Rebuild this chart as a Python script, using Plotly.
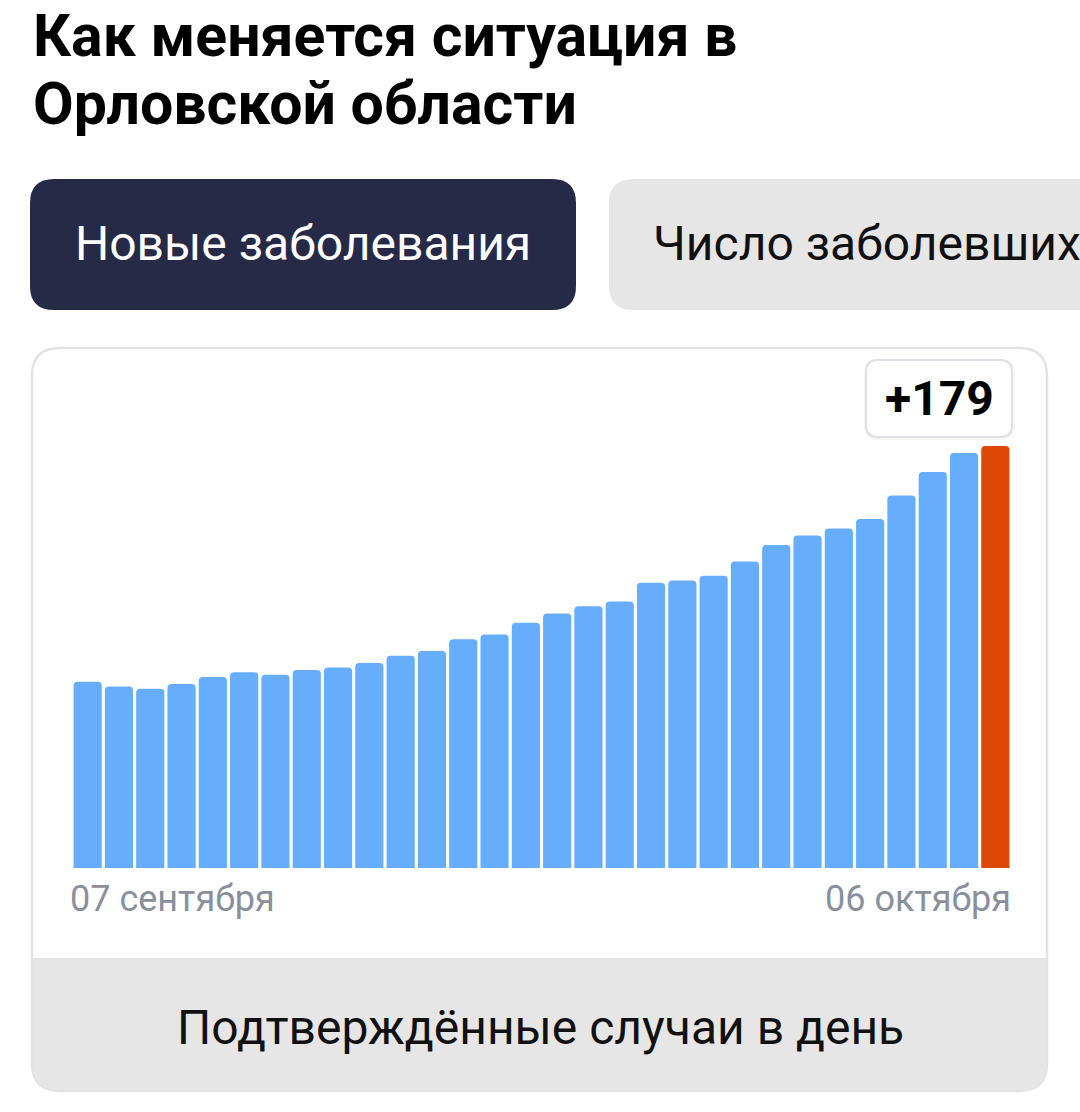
import plotly.graph_objects as go

# ---- data ----
dates = ["07.09", "08.09", "09.09", "10.09", "11.09", "12.09", "13.09", "14.09", "15.09", "16.09",
         "17.09", "18.09", "19.09", "20.09", "21.09", "22.09", "23.09", "24.09", "25.09", "26.09",
         "27.09", "28.09", "29.09", "30.09", "01.10", "02.10", "03.10", "04.10", "05.10", "06.10"]
new_cases = [79, 77, 76, 78, 81, 83, 82, 84, 85, 87,
             90, 92, 97, 99, 104, 108, 111, 113, 121, 122,
             124, 130, 137, 141, 144, 148, 158, 168, 176, 179]
first_label = "07 сентября"
last_label = "06 октября"
title_lines = ["Как меняется ситуация в", "Орловской области"]
tab_active = "Новые заболевания"
tab_other = "Число заболевших"
footer = "Подтверждённые случаи в день"

W, H = 1080, 1112
BLUE = "#66adfc"
RED = "#dc4804"


def px(x):
    return x / W


def py(y):
    return 1 - y / H


def rrect(x0, y0, x1, y1, r, corners=(True, True, True, True)):
    """Rounded rect path in paper coords; corners = (tl, tr, br, bl)."""
    tl, tr, br, bl = [r if c else 0 for c in corners]
    pts = []
    pts.append(f"M {px(x0 + tl)},{py(y0)}")
    pts.append(f"L {px(x1 - tr)},{py(y0)}")
    if tr:
        pts.append(f"Q {px(x1)},{py(y0)} {px(x1)},{py(y0 + tr)}")
    pts.append(f"L {px(x1)},{py(y1 - br)}")
    if br:
        pts.append(f"Q {px(x1)},{py(y1)} {px(x1 - br)},{py(y1)}")
    pts.append(f"L {px(x0 + bl)},{py(y1)}")
    if bl:
        pts.append(f"Q {px(x0)},{py(y1)} {px(x0)},{py(y1 - bl)}")
    pts.append(f"L {px(x0)},{py(y0 + tl)}")
    if tl:
        pts.append(f"Q {px(x0)},{py(y0)} {px(x0 + tl)},{py(y0)}")
    pts.append("Z")
    return " ".join(pts)


colors = [BLUE] * (len(new_cases) - 1) + [RED]

fig = go.Figure()
fig.add_trace(go.Bar(
    x=dates, y=new_cases,
    marker=dict(color=colors, line=dict(width=0), cornerradius=4),
    hoverinfo="skip",
))

shapes = []
# card border
shapes.append(dict(type="path", xref="paper", yref="paper", layer="below",
                   path=rrect(32, 348, 1047, 1091, 28),
                   fillcolor="white", line=dict(color="#e3e3e6", width=2.5)))
# footer band
shapes.append(dict(type="path", xref="paper", yref="paper", layer="below",
                   path=rrect(33, 958, 1046, 1090, 27, (False, False, True, True)),
                   fillcolor="#e6e6e7", line=dict(width=0)))
# tabs
shapes.append(dict(type="path", xref="paper", yref="paper", layer="below",
                   path=rrect(30, 179, 576, 310, 24),
                   fillcolor="#262a47", line=dict(width=0)))
shapes.append(dict(type="path", xref="paper", yref="paper", layer="below",
                   path=rrect(609, 179, 1110, 310, 24),
                   fillcolor="#e6e6e7", line=dict(width=0)))
# tooltip shadow + box
shapes.append(dict(type="path", xref="paper", yref="paper", layer="above",
                   path=rrect(864, 359, 1015, 440, 14),
                   fillcolor="rgba(0,0,0,0.04)", line=dict(width=0)))
shapes.append(dict(type="path", xref="paper", yref="paper", layer="above",
                   path=rrect(866, 360, 1012, 437, 12),
                   fillcolor="white", line=dict(color="#dde0e6", width=2)))

annotations = [
    dict(text=title_lines[0], x=px(31), y=py(35), xanchor="left", yanchor="middle",
         font=dict(family="Roboto", size=59, color="#000000", weight="bold")),
    dict(text=title_lines[1], x=px(31), y=py(104), xanchor="left", yanchor="middle",
         font=dict(family="Roboto", size=59, color="#000000", weight="bold")),
    dict(text=tab_active, x=px(303), y=py(244), xanchor="center", yanchor="middle",
         font=dict(family="Roboto", size=48, color="#ffffff")),
    dict(text=tab_other, x=px(651), y=py(244), xanchor="left", yanchor="middle",
         font=dict(family="Roboto", size=48, color="#111111")),
    dict(text="+" + str(new_cases[-1]), x=px(939), y=py(398), xanchor="center", yanchor="middle",
         font=dict(family="Roboto", size=48, color="#000000", weight="bold")),
    dict(text=first_label, xref="x domain", yref="paper", x=0, y=py(899),
         xanchor="left", yanchor="middle", xshift=-4,
         font=dict(family="Roboto", size=36, color="#8a8f9d")),
    dict(text=last_label, xref="x domain", yref="paper", x=1, y=py(899),
         xanchor="right", yanchor="middle", xshift=2,
         font=dict(family="Roboto", size=36, color="#8a8f9d")),
    dict(text=footer, x=px(540), y=py(1027), xanchor="center", yanchor="middle",
         font=dict(family="Roboto", size=48, color="#111111")),
]
for a in annotations:
    a.setdefault("xref", "paper")
    a.setdefault("yref", "paper")
    a["showarrow"] = False

fig.update_layout(
    width=W, height=H,
    margin=dict(l=0, r=0, t=0, b=0),
    paper_bgcolor="white", plot_bgcolor="rgba(0,0,0,0)",
    showlegend=False,
    bargap=0.1,
    xaxis=dict(domain=[px(72), px(1011)], showticklabels=False, showgrid=False,
               zeroline=False, showline=False, ticks="", fixedrange=True),
    yaxis=dict(domain=[py(868), py(446)], range=[0, new_cases[-1]], showticklabels=False,
               showgrid=False, zeroline=False, showline=False, ticks="", fixedrange=True),
    shapes=shapes,
    annotations=annotations,
)

fig.write_html("out.html", config={"displayModeBar": False},
               post_script="document.body.style.margin='0';document.body.style.overflow='hidden';")
